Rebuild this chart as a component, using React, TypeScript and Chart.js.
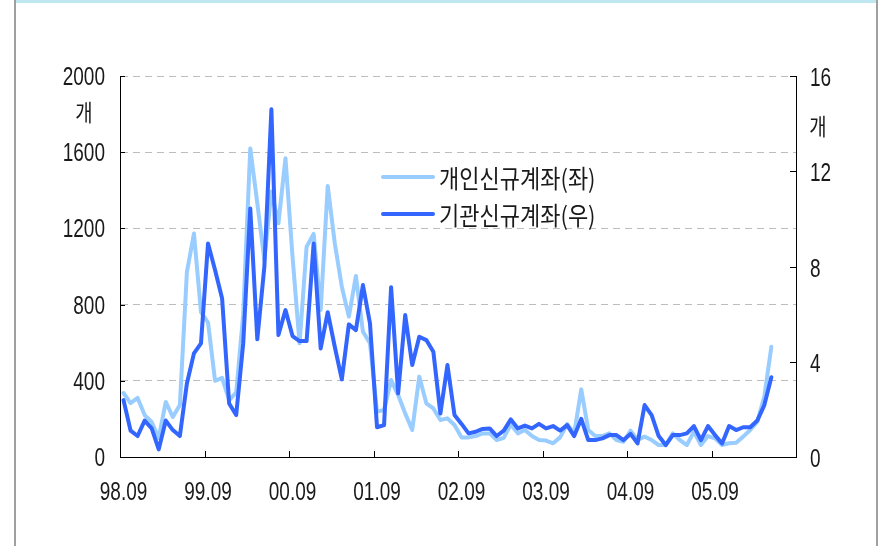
import { useEffect, useRef } from 'react';
import { Chart, registerables } from 'chart.js';

Chart.register(...registerables);

// Monthly categories 98.09 ~ 06.08
const months = [
  '98.09','98.10','98.11','98.12','99.01','99.02','99.03','99.04','99.05','99.06','99.07','99.08',
  '99.09','99.10','99.11','99.12','00.01','00.02','00.03','00.04','00.05','00.06','00.07','00.08',
  '00.09','00.10','00.11','00.12','01.01','01.02','01.03','01.04','01.05','01.06','01.07','01.08',
  '01.09','01.10','01.11','01.12','02.01','02.02','02.03','02.04','02.05','02.06','02.07','02.08',
  '02.09','02.10','02.11','02.12','03.01','03.02','03.03','03.04','03.05','03.06','03.07','03.08',
  '03.09','03.10','03.11','03.12','04.01','04.02','04.03','04.04','04.05','04.06','04.07','04.08',
  '04.09','04.10','04.11','04.12','05.01','05.02','05.03','05.04','05.05','05.06','05.07','05.08',
  '05.09','05.10','05.11','05.12','06.01','06.02','06.03','06.04','06.05','06.06','06.07','06.08',
];

// x-axis labels shown (every 12 months)
const xTickLabels = ['98.09', '99.09', '00.09', '01.09', '02.09', '03.09', '04.09', '05.09'];

// 개인신규계좌 (left axis, 개)
const individualNew = [
  336, 283, 310, 220, 184, 100, 289, 210, 273, 971, 1173, 761,
  706, 400, 415, 299, 338, 750, 1620, 1332, 1034, 1393, 1227, 1568,
  1052, 597, 1104, 1171, 772, 1423, 1122, 894, 737, 950, 658, 597,
  238, 247, 404, 325, 229, 142, 422, 282, 255, 194, 203, 168,
  103, 103, 110, 124, 124, 89, 101, 171, 124, 142, 110, 89,
  86, 72, 103, 173, 124, 355, 142, 110, 110, 124, 89, 80,
  138, 89, 107, 89, 63, 63, 124, 89, 63, 133, 63, 110,
  98, 63, 72, 75, 107, 142, 185, 317, 579,
];

// 기관신규계좌 (right axis, 개)
const institutionalNew = [
  2.39, 1.11, 0.88, 1.53, 1.2, 0.32, 1.53, 1.13, 0.88, 3.09, 4.35, 4.77,
  8.97, 7.85, 6.66, 2.25, 1.76, 4.77, 10.44, 4.94, 7.99, 14.6, 5.12, 6.17,
  5.08, 4.87, 4.87, 8.97, 4.56, 6.08, 4.63, 3.26, 5.57, 5.33, 7.22, 5.61,
  1.25, 1.34, 7.13, 2.67, 5.96, 3.86, 5.05, 4.91, 4.42, 1.83, 3.86, 1.76,
  1.39, 0.99, 1.06, 1.18, 1.2, 0.88, 1.11, 1.58, 1.2, 1.32, 1.2, 1.39,
  1.2, 1.3, 1.11, 1.34, 0.88, 1.6, 0.71, 0.71, 0.78, 0.92, 0.92, 0.71,
  0.97, 0.57, 2.18, 1.76, 0.88, 0.5, 0.92, 0.92, 0.99, 1.3, 0.71, 1.3,
  0.92, 0.57, 1.3, 1.13, 1.25, 1.25, 1.53, 2.18, 3.35,
];

const seriesNames = ['개인신규계좌(좌)', '기관신규계좌(우)'];
const unitLabel = '개';

const LIGHT = '#99CCFF';
const DARK = '#3366FF';
const TEXT = '#1a1a1a';
const NUM_FONT = '25px "Liberation Sans", Arial, sans-serif';
const NUM_SX = 0.76;
const KR_FONT = '"Noto Sans CJK KR", "Noto Sans", sans-serif';

const decorPlugin = {
  id: 'decor',
  afterDraw(chart: any) {
    const { ctx, chartArea: a, scales } = chart;
    const xS = scales.x;
    const yL = scales.y;
    const yR = scales.y1;
    ctx.save();
    ctx.strokeStyle = '#000';
    ctx.lineWidth = 1;
    const line = (x1: number, y1: number, x2: number, y2: number) => {
      ctx.beginPath();
      ctx.moveTo(x1, y1);
      ctx.lineTo(x2, y2);
      ctx.stroke();
    };
    const text = (s: string, x: number, y: number, align: string, font: string, sx: number) => {
      ctx.save();
      ctx.font = font;
      ctx.fillStyle = TEXT;
      ctx.textAlign = align;
      ctx.textBaseline = 'middle';
      ctx.translate(x, y);
      ctx.scale(sx, 1);
      ctx.fillText(s, 0, 0);
      ctx.restore();
    };

    // x-axis: inward tick marks at category boundaries + labels
    const w = (a.right - a.left) / months.length;
    xTickLabels.forEach((lab) => {
      const idx = months.indexOf(lab);
      if (idx > 0) {
        const px = Math.round(a.left + idx * w) + 0.5;
        line(px, a.bottom, px, a.bottom - 6);
      }
      text(lab, xS.getPixelForValue(idx), a.bottom + 36, 'center', NUM_FONT, NUM_SX);
    });

    // left y-axis
    yL.ticks.forEach((t: any) => {
      const py = Math.round(yL.getPixelForValue(t.value)) + 0.5;
      line(a.left, py, a.left + 5, py);
      text(String(t.value), a.left - 15, py + 2, 'right', NUM_FONT, NUM_SX);
    });
    // right y-axis
    yR.ticks.forEach((t: any) => {
      const py = Math.round(yR.getPixelForValue(t.value)) + 0.5;
      line(a.right - 6, py, a.right, py);
      text(String(t.value), a.right + 14, py + 2.5, 'left', NUM_FONT, NUM_SX);
    });

    // unit labels
    text(unitLabel, a.left - 36, a.top + 36, 'center', `23px ${KR_FONT}`, 0.82);
    text(unitLabel, a.right + 22, a.top + 50, 'center', `23px ${KR_FONT}`, 0.82);

    // legend
    const lx = a.left + 263;
    const ly = a.top + 101;
    const colors = [LIGHT, DARK];
    ctx.lineCap = 'round';
    seriesNames.forEach((name, k) => {
      const yy = ly + k * 37;
      ctx.strokeStyle = colors[k];
      ctx.lineWidth = 4;
      line(lx, yy, lx + 50, yy);
      text(name, lx + 56, yy + 1, 'left', `25px ${KR_FONT}`, 0.88);
    });
    ctx.restore();
  },
};

export default function App() {
  const ref = useRef<HTMLCanvasElement>(null);

  useEffect(() => {
    if (!ref.current) return;
    const chart = new Chart(ref.current, {
      type: 'line',
      data: {
        labels: months,
        datasets: [
          {
            label: seriesNames[1],
            data: institutionalNew,
            yAxisID: 'y1',
            borderColor: DARK,
            borderWidth: 4,
            pointRadius: 0,
            tension: 0,
            borderJoinStyle: 'round',
            borderCapStyle: 'round',
            order: 0,
          },
          {
            label: seriesNames[0],
            data: individualNew,
            yAxisID: 'y',
            borderColor: LIGHT,
            borderWidth: 4,
            pointRadius: 0,
            tension: 0,
            borderJoinStyle: 'round',
            borderCapStyle: 'round',
            order: 1,
          },
        ],
      },
      options: {
        animation: false,
        responsive: false,
        maintainAspectRatio: false,
        layout: { padding: { top: 76, left: 0, right: 0, bottom: 0 } },
        plugins: { legend: { display: false }, tooltip: { enabled: false } },
        scales: {
          x: {
            type: 'category',
            offset: true,
            grid: { display: false },
            border: { display: true, color: '#000', width: 1 },
            ticks: { display: false, autoSkip: false, maxRotation: 0, minRotation: 0 },
            afterFit: (s: any) => { s.height = 89; },
          },
          y: {
            position: 'left',
            min: 0,
            max: 2000,
            ticks: { display: false, stepSize: 400 },
            grid: {
              drawTicks: false,
              tickLength: 0,
              color: (c: any) => (c.tick && c.tick.value === 0 ? 'rgba(0,0,0,0)' : '#BDBDBD'),
              lineWidth: 1,
            },
            border: { display: true, color: '#000', width: 1, dash: [7, 5] },
            afterFit: (s: any) => { s.width = 120; },
          },
          y1: {
            position: 'right',
            min: 0,
            max: 16,
            ticks: { display: false, stepSize: 4 },
            grid: { display: false, drawTicks: false, tickLength: 0 },
            border: { display: true, color: '#000', width: 1 },
            afterFit: (s: any) => { s.width = 85; },
          },
        },
      },
      plugins: [decorPlugin],
    });
    return () => chart.destroy();
  }, []);

  return (
    <div style={{ position: 'fixed', left: 0, top: 0, width: 881, height: 546, background: '#fff', overflow: 'hidden' }}>
      <canvas ref={ref} width={881} height={546} style={{ position: 'absolute', left: 0, top: 0, width: 881, height: 546 }} />
      <div style={{ position: 'absolute', left: 16, top: 0, width: 861, height: 3, background: '#BEE7F0' }} />
      <div style={{ position: 'absolute', left: 14, top: 0, width: 2, height: 546, background: '#A0A0A0' }} />
      <div style={{ position: 'absolute', left: 876, top: 0, width: 2, height: 546, background: '#A0A0A0' }} />
    </div>
  );
}
